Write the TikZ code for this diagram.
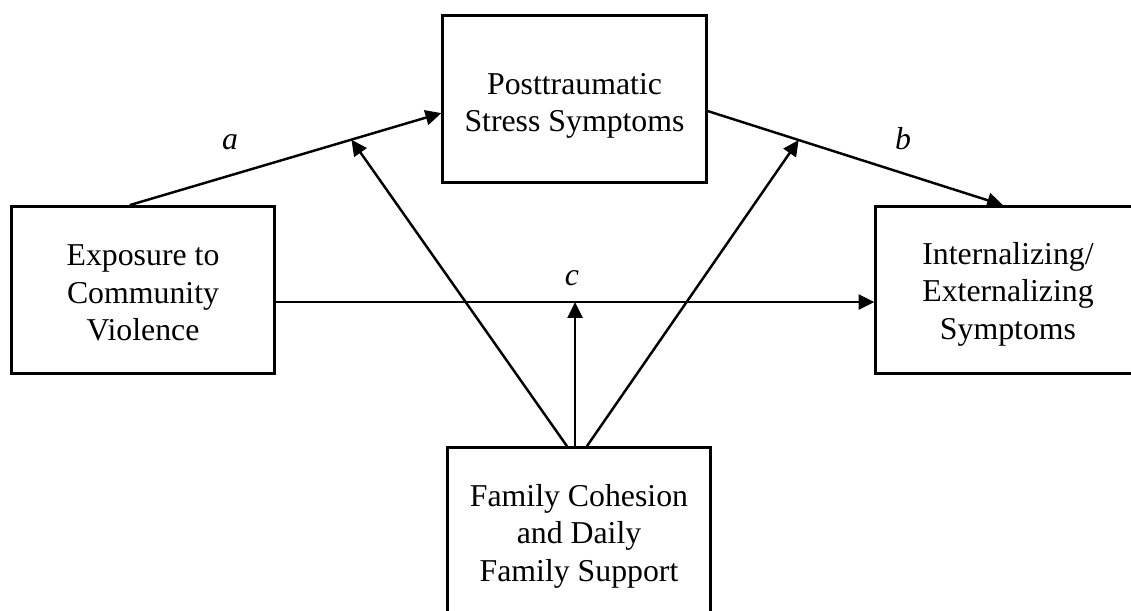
\documentclass[tikz,border=0pt]{standalone}
\usepackage{fontspec}
\setmainfont{Liberation Serif}
\usetikzlibrary{arrows.meta,calc}
\begin{document}
\begin{tikzpicture}[x=0.02cm,y=-0.02cm,
  box/.style={draw,line width=1.4pt,rectangle,inner sep=0pt},
  txt/.style={align=center,font=\fontsize{18.1}{21.4}\selectfont,inner sep=0pt},
  lab/.style={font=\fontsize{18.1}{21.4}\selectfont\itshape,inner sep=0pt,anchor=base},
  arr/.style={line width=1.4pt,-{Triangle[length=9pt,width=8.5pt]}}]
\useasboundingbox (0,0) rectangle (1131,611);
\clip (0,0) rectangle (1131,611);
% boxes
\node[box,minimum width=265*0.5669pt,minimum height=168*0.5669pt] (T) at (574.5,99) {};
\node[box,minimum width=264*0.5669pt,minimum height=168*0.5669pt] (L) at (143,290) {};
\node[box,minimum width=266*0.5669pt,minimum height=168*0.5669pt] (R) at (1008,290) {};
\node[box,minimum width=264*0.5669pt,minimum height=172*0.5669pt] (B) at (579,533) {};
% texts
\node[txt] (Tt) at (574.5,106) {Posttraumatic\\Stress Symptoms};
\node[txt] (Lt) at (143,293) {Exposure to\\Community\\Violence};
\node[txt] (Rt) at (1008,294) {Internalizing/\\Externalizing\\Symptoms};
\node[txt] (Bt) at (579,536) {Family Cohesion\\and Daily\\Family Support};
% connector points
\coordinate (a1) at ($(L.north west)!0.45!(L.north east)$);
\coordinate (a2) at ($(T.north west)!0.583!(T.south west)$);
\coordinate (b1) at ($(T.north east)!0.571!(T.south east)$);
\coordinate (b2) at ($(R.north west)!0.481!(R.north east)$);
\coordinate (c1) at ($(L.north east)!0.571!(L.south east)$);
\coordinate (c2) at (R.west |- c1);
\coordinate (m1) at ($(B.north west)!0.4545!(B.north east)$);
\coordinate (m2) at ($(B.north west)!0.485!(B.north east)$);
\coordinate (m3) at ($(B.north west)!0.53!(B.north east)$);
\coordinate (ma) at ($(a1)!0.7115!(a2)$);
\coordinate (mb) at ($(b1)!0.308!(b2)$);
\coordinate (mc) at (m2 |- c1);
% paths
\draw[arr] (a1) -- (a2);
\draw[arr] (b1) -- (b2);
\draw[arr] (c1) -- (c2);
\draw[arr] (m1) -- (ma);
\draw[arr] (m2) -- (mc);
\draw[arr] (m3) -- (mb);
% labels
\node[lab] (la) at (230,150) {a};
\node[lab] (lb) at (903,150) {b};
\node[lab] (lc) at (572,285) {c};
\end{tikzpicture}
\end{document}
